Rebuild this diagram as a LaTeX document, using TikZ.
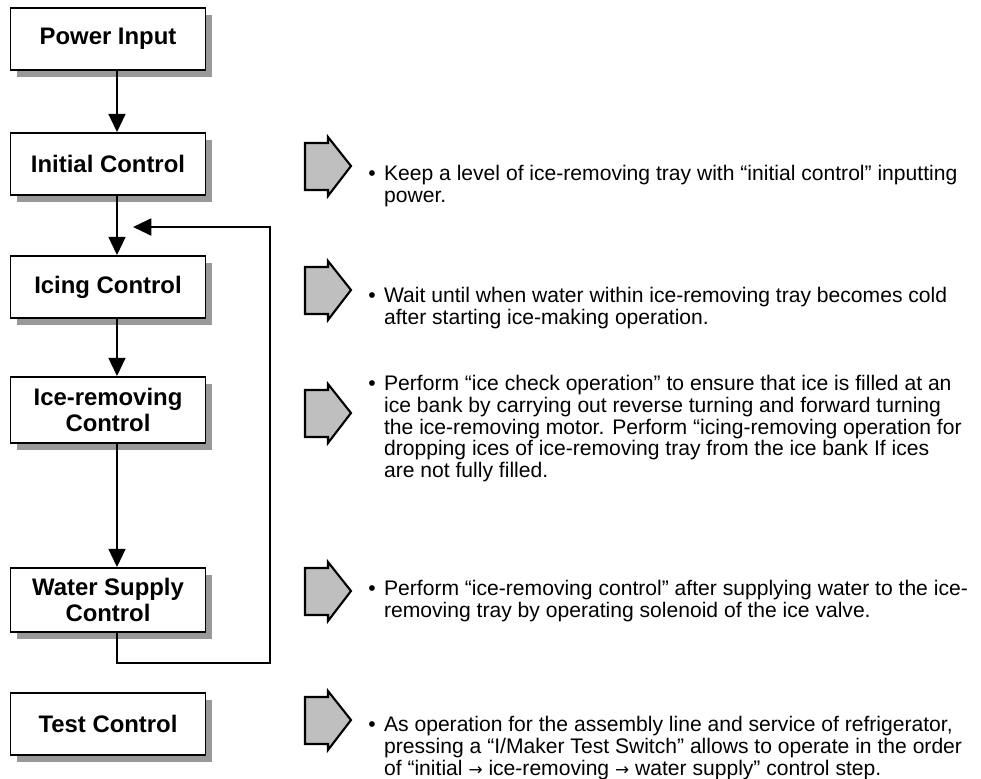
\documentclass[tikz,border=0pt]{standalone}
\usepackage{fontspec}
\setmainfont{Liberation Sans}
\newfontfamily\arrowfont{DejaVu Sans}
\usetikzlibrary{arrows.meta}
\usetikzlibrary{shadows}

\tikzset{
  ctrl/.style={draw,line width=1.3pt,fill=white,minimum width=4.875cm,minimum height=1.55cm,
    align=center,font=\fontsize{17}{18}\selectfont\bfseries,
    drop shadow={shadow xshift=0.17cm,shadow yshift=-0.17cm,fill=gray!80,opacity=1}},
  flow/.style={line width=1.6pt,-{Triangle[length=13pt,width=12pt]}},
  hollow/.style={line width=1.5pt,fill=gray!50,line join=miter},
  desc/.style={anchor=north west,inner sep=0pt,font=\fontsize{15}{15.3}\selectfont}
}
\newcommand{\bulletrows}[1]{\begin{tabular}{@{}l@{\hspace{6pt}}l@{}}#1\end{tabular}}
\newcommand{\toarrow}{{\arrowfont\fontsize{12}{15.3}\selectfont →}}

\begin{document}
\begin{tikzpicture}[x=0.025cm,y=-0.025cm]
\useasboundingbox (0,0) rectangle (981,778);

% control steps
\node[ctrl] (power) at (108,39) {Power Input};
\node[ctrl] (initial) at (108,164) {Initial Control};
\node[ctrl] (icing) at (108,287) {Icing Control};
\node[ctrl,minimum height=1.65cm] (removing) at (108,410) {Ice-removing\\Control};
\node[ctrl,minimum height=1.6cm] (supply) at (108,600) {Water Supply\\Control};
\node[ctrl] (test) at (108,724) {Test Control};

\coordinate (col) at (117,0);
\coordinate (loop) at (270,663);
\coordinate (back) at (133,227);

\draw[flow] (power.south -| col) -- (initial.north -| col);
\draw[flow] (initial.south -| col) -- (icing.north -| col);
\draw[flow] (icing.south -| col) -- (removing.north -| col);
\draw[flow] (removing.south -| col) -- (supply.north -| col);
\draw[flow] (supply.south -| col) |- (loop) |- (back);

% hollow pointers
\foreach \y in {166,290,413,591,720}
  \draw[hollow] (305,\y-23) -- (328,\y-23) -- (328,\y-29) -- (351,\y)
    -- (328,\y+30) -- (328,\y+24) -- (305,\y+24) -- cycle;

% descriptions
\node[desc] (keep) at (368,165) {\bulletrows{\textbullet & Keep a level of ice-removing tray with “initial control” inputting\\
  & power.}};
\node[desc] (wait) at (368,287) {\bulletrows{\textbullet & Wait until when water within ice-removing tray becomes cold\\
  & after starting ice-making operation.}};
\node[desc] (check) at (368,375) {\bulletrows{\textbullet & Perform “ice check operation” to ensure that ice is filled at an\\
  & ice bank by carrying out reverse turning and forward turning\\
  & the ice-removing motor. Perform “icing-removing operation for\\
  & dropping ices of ice-removing tray from the ice bank If ices\\
  & are not fully filled.}};
\node[desc] (refill) at (368,580) {\bulletrows{\textbullet & Perform “ice-removing control” after supplying water to the ice-\\
  & removing tray by operating solenoid of the ice valve.}};
\node[desc] (testnote) at (368,716) {\bulletrows{\textbullet & As operation for the assembly line and service of refrigerator,\\
  & pressing a “I/Maker Test Switch” allows to operate in the order\\
  & of “initial \toarrow{} ice-removing \toarrow{} water supply” control step.}};
\end{tikzpicture}
\end{document}
